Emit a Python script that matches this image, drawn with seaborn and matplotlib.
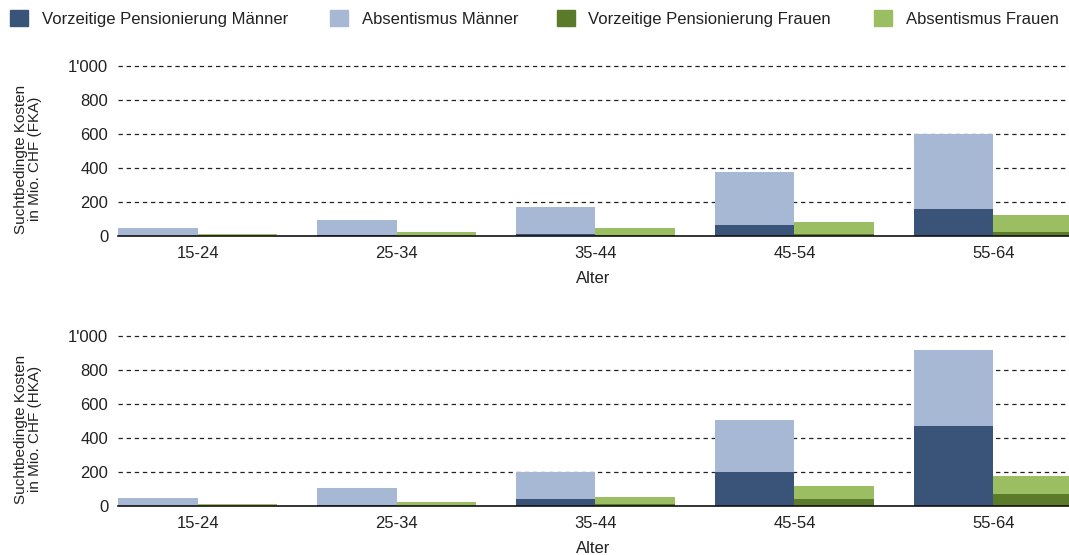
import matplotlib
matplotlib.use("Agg")
import matplotlib.pyplot as plt
import matplotlib.patches as mpatches
from matplotlib.ticker import FuncFormatter
import seaborn as sns
import pandas as pd
import numpy as np

categories = ["15-24", "25-34", "35-44", "45-54", "55-64"]

# FKA (top panel)
fka_pension_m = [2, 3, 14, 63, 157]
fka_absent_m = [45, 93, 156, 310, 443]
fka_pension_f = [1, 2, 3, 10, 22]
fka_absent_f = [11, 22, 42, 75, 100]

# HKA (bottom panel)
hka_pension_m = [1, 5, 39, 200, 470]
hka_absent_m = [48, 98, 159, 306, 444]
hka_pension_f = [1, 2, 9, 43, 72]
hka_absent_f = [11, 23, 44, 75, 103]

series_names = ["Vorzeitige Pensionierung Männer", "Absentismus Männer",
                "Vorzeitige Pensionierung Frauen", "Absentismus Frauen"]
c_pm, c_am, c_pf, c_af = "#3A5479", "#A7B8D4", "#5B7A2A", "#9BBE62"

sns.set_theme(style="white")
plt.rcParams["font.family"] = ["Liberation Sans", "DejaVu Sans"]
plt.rcParams["font.size"] = 12

fig = plt.figure(figsize=(10.69, 5.55), dpi=100)
W, H = 1069, 555
ax_top = fig.add_axes([118 / W, 1 - 236 / H, (1069 - 118) / W, (236 - 64) / H])
ax_bot = fig.add_axes([118 / W, 1 - 506 / H, (1069 - 118) / W, (506 - 334) / H])
TXT = "#222222"


def draw(ax, pm, am, pf, af, label, label_y):
    pos = np.arange(len(categories))
    tot_m = np.array(pm) + np.array(am)
    tot_f = np.array(pf) + np.array(af)
    bw = 0.4
    for xpos, vals, col in [(pos, tot_m, c_am), (pos, pm, c_pm),
                            (pos + 0.4, tot_f, c_af), (pos + 0.4, pf, c_pf)]:
        df = pd.DataFrame({"x": xpos, "y": vals})
        sns.barplot(data=df, x="x", y="y", native_scale=True, width=bw,
                    color=col, saturation=1, errorbar=None, ax=ax,
                    linewidth=0, zorder=3)
    ax.set_xlim(-0.2, 4.58)
    ax.set_ylim(0, 1010)
    ax.set_xticks(pos + 0.2)
    ax.set_xticklabels(categories)
    ax.set_yticks([0, 200, 400, 600, 800, 1000])
    ax.yaxis.set_major_formatter(FuncFormatter(lambda v, p: f"{int(v):,}".replace(",", "'")))
    ax.tick_params(axis="x", length=0, labelsize=12, colors=TXT, pad=7)
    ax.tick_params(axis="y", length=0, labelsize=12, colors=TXT, pad=7)
    for yv in [200, 400, 600, 800, 1000]:
        ax.axhline(yv, color="#222222", lw=0.9, ls=(0, (3.5, 3)), zorder=1)
    for s in ["top", "right", "left"]:
        ax.spines[s].set_visible(False)
    ax.spines["bottom"].set_color("#111111")
    ax.spines["bottom"].set_linewidth(1.2)
    ax.spines["bottom"].set_zorder(5)
    ax.set_xlabel("Alter", fontsize=12, color=TXT, labelpad=7.5)
    ax.set_ylabel("")
    fig.text(28 / W, 1 - label_y / H, label, rotation=90, ha="center", va="center",
             fontsize=11, color=TXT, linespacing=1.0)


draw(ax_top, fka_pension_m, fka_absent_m, fka_pension_f, fka_absent_f,
     "Suchtbedingte Kosten\nin Mio. CHF (FKA)", 159)
draw(ax_bot, hka_pension_m, hka_absent_m, hka_pension_f, hka_absent_f,
     "Suchtbedingte Kosten\nin Mio. CHF (HKA)", 429)

legend_x = [10, 330, 557, 874]
for xs, name, col in zip(legend_x, series_names, [c_pm, c_am, c_pf, c_af]):
    fig.legend([mpatches.Patch(color=col)], [name], loc="upper left",
               bbox_to_anchor=(xs / W, 1 - 10 / H), frameon=False, fontsize=12,
               handlelength=1.05, handleheight=1.08, handletextpad=0.84,
               borderpad=0, borderaxespad=0, labelcolor=TXT)

fig.savefig("out.png", dpi=100)
